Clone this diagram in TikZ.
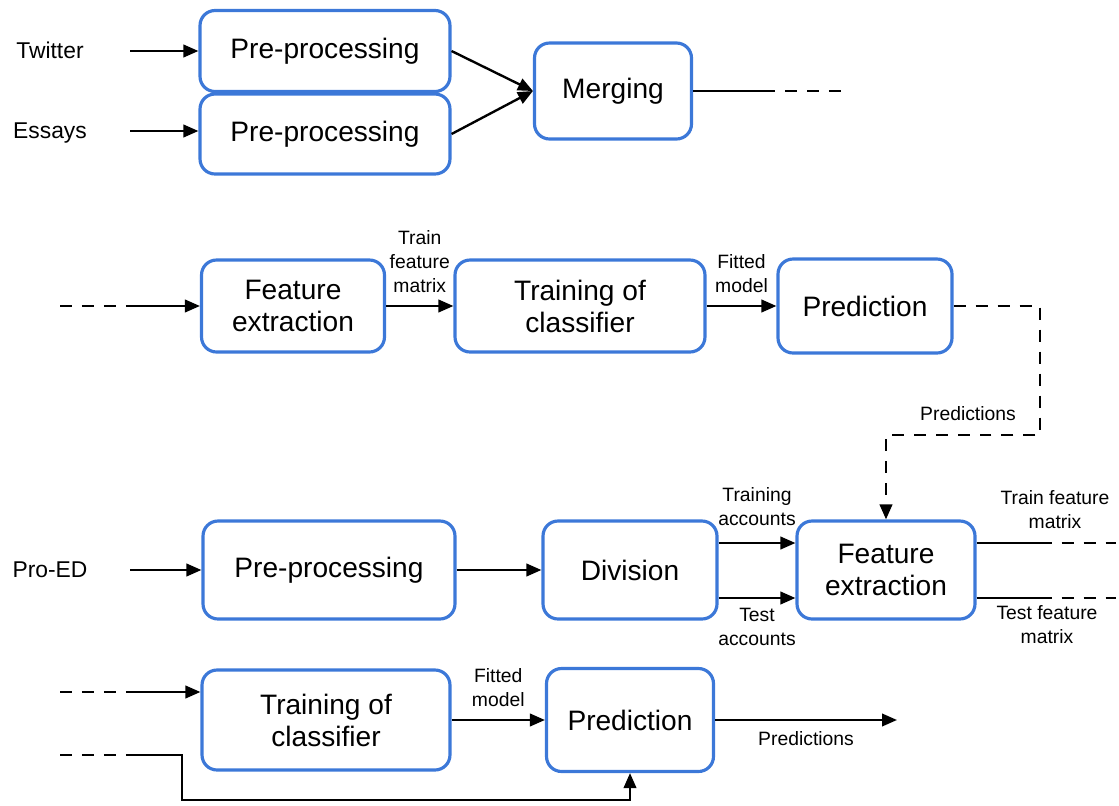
\documentclass[tikz,border=0pt]{standalone}
\usepackage{fontspec}
\setmainfont{Liberation Sans}
\usetikzlibrary{arrows.meta}
\definecolor{boxblue}{HTML}{3C78D8}

\begin{document}
\begin{tikzpicture}[
  x=0.02cm, y=-0.02cm,
  >={Triangle[length=0.3cm, width=0.25cm]},
  stage/.style={draw=boxblue, line width=1.8pt, rounded corners=0.3cm, align=center, inner sep=0pt, font=\fontsize{16}{18.2}\selectfont},
  src/.style={font=\fontsize{13}{15}\selectfont},
  lab/.style={font=\fontsize{11}{13.7}\selectfont, align=center, inner sep=2pt},
  flow/.style={->, line width=1.35pt},
  link/.style={line width=1.35pt},
  stub/.style={line width=1.35pt, dash pattern=on 0.24cm off 0.2cm},
  tail/.style={stub, dash phase=0.24cm}
]
\path[use as bounding box] (0,0) rectangle (1119,805);

% sources
\node[src] (twitter) at (50,50) {Twitter};
\node[src] (essays) at (50,133) {Essays};
\node[src] (proed) at (50,570) {Pro-ED};

% first row
\node[stage, minimum width=5cm, minimum height=1.62cm] (preT) at (325,51) {Pre-processing};
\node[stage, minimum width=5cm, minimum height=1.6cm] (preE) at (325,134) {Pre-processing};
\node[stage, minimum width=3.14cm, minimum height=1.92cm] (merge) at (613,91) {Merging};
\coordinate (inT) at (130,51);
\coordinate (inE) at (130,131);
\coordinate (mA) at (775,91);
\coordinate (mB) at (845,91);
\draw[flow] (inT) -- (preT);
\draw[flow] (inE) -- (inE -| preE.west);
\draw[flow] (preT.east) -- (merge.west);
\draw[flow] (preE.east) -- (merge.west);
\draw[link] (merge.east) -- (mA);
\draw[tail] (mA) -- (mB);

% second row
\node[stage, minimum width=3.66cm, minimum height=1.84cm] (featA) at (293,306) {Feature\\extraction};
\node[stage, minimum width=5cm, minimum height=1.84cm] (trainA) at (580,306) {Training of\\classifier};
\node[stage, minimum width=3.48cm, minimum height=1.88cm] (predA) at (865,306) {Prediction};
\coordinate (r2a) at (60,306);
\coordinate (r2b) at (130,306);
\coordinate (fb) at (1040,435);
\draw[stub] (r2a) -- (r2b);
\draw[flow] (r2b) -- (featA);
\draw[flow] (featA) -- node[lab, above=5pt] (lTrain) {Train\\feature\\matrix} (trainA);
\draw[flow] (trainA) -- node[lab, above=5pt] (lFitA) {Fitted\\model} (predA);

% third row
\node[stage, minimum width=5.04cm, minimum height=1.96cm] (preP) at (329,570) {Pre-processing};
\node[stage, minimum width=3.48cm, minimum height=1.96cm] (div) at (630,570) {Division};
\node[stage, minimum width=3.56cm, minimum height=1.96cm] (featB) at (886,570) {Feature\\extraction};
\coordinate (inP) at (130,570);
\draw[stub, ->] (predA.east) -| (fb) -| (featB.north);
\node[lab] (lPredA) at (968,414) {Predictions};
\draw[flow] (inP) -- (preP);
\draw[flow] (preP) -- (div);
\draw[flow] ([yshift=0.54cm]div.east) -- node[lab, above=7pt] (lTrAcc) {Training\\accounts} ([yshift=0.54cm]featB.west);
\draw[flow] ([yshift=-0.56cm]div.east) -- node[lab, below=3pt] (lTeAcc) {Test\\accounts} ([yshift=-0.56cm]featB.west);
\coordinate (oA) at ([yshift=0.54cm]featB.east);
\coordinate (oB) at ([yshift=-0.56cm]featB.east);
\draw[link] (oA) -- ++(75,0) coordinate (oA2);
\draw[tail] (oA2) -- ++(64,0);
\draw[link] (oB) -- ++(75,0) coordinate (oB2);
\draw[tail] (oB2) -- ++(64,0);
\node[lab] (lTrFM) at (1055,510) {Train feature\\matrix};
\node[lab] (lTeFM) at (1047,625) {Test feature\\matrix};

% fourth row
\node[stage, minimum width=4.96cm, minimum height=2cm] (trainB) at (326,720) {Training of\\classifier};
\node[stage, minimum width=3.34cm, minimum height=2.06cm] (predB) at (630,720) {Prediction};
\coordinate (r4a) at (60,692);
\coordinate (r4b) at (130,692);
\coordinate (r4c) at (60,755);
\coordinate (r4d) at (130,755);
\coordinate (low) at (182,800);
\coordinate (outB) at (897,720);
\draw[stub] (r4a) -- (r4b);
\draw[flow] (r4b) -- (r4b -| trainB.west);
\draw[flow] (trainB) -- node[lab, above=5pt] (lFitB) {Fitted\\model} (predB);
\draw[flow] (predB) -- node[lab, below=4pt] (lPredB) {Predictions} (outB);
\draw[stub] (r4c) -- (r4d);
\draw[flow] (r4d) -| (low) -| (predB.south);
\end{tikzpicture}
\end{document}
